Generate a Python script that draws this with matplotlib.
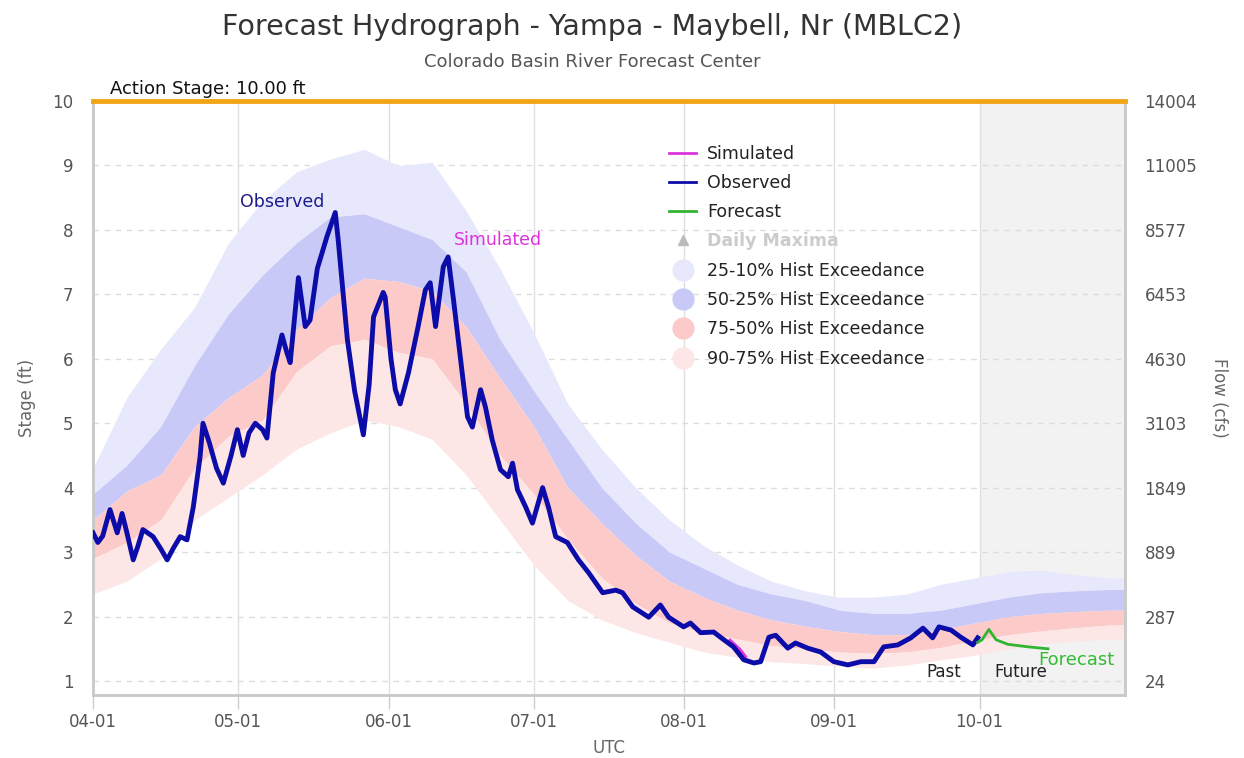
import numpy as np
import pandas as pd
import matplotlib
matplotlib.use('Agg')
import matplotlib.pyplot as plt
import matplotlib.dates as mdates
from matplotlib.lines import Line2D

plt.rcParams['font.family'] = ['DejaVu Sans']

inicio = pd.Timestamp('2019-04-01')

# Bandas de excedencia historica (dias desde 04-01, nivel en ft)
banda_dias = [0, 7, 14, 21, 28, 35, 42, 49, 56, 63, 70, 77, 84, 91, 98, 105,
              112, 119, 126, 133, 140, 147, 154, 161, 168, 175, 182, 189, 196,
              203, 210, 213]
exc_10 = [4.3, 5.4, 6.15, 6.8, 7.8, 8.45, 8.9, 9.1, 9.25, 9.0, 9.05, 8.3, 7.4,
          6.4, 5.3, 4.6, 4.0, 3.5, 3.1, 2.8, 2.55, 2.4, 2.3, 2.3, 2.35, 2.5,
          2.6, 2.7, 2.72, 2.65, 2.6, 2.6]
exc_25 = [3.9, 4.35, 4.95, 5.9, 6.7, 7.3, 7.8, 8.2, 8.25, 8.05, 7.85, 7.35,
          6.3, 5.5, 4.75, 4.0, 3.45, 3.0, 2.75, 2.5, 2.35, 2.25, 2.1, 2.05,
          2.05, 2.1, 2.2, 2.3, 2.37, 2.4, 2.42, 2.42]
exc_50 = [3.5, 3.95, 4.2, 4.95, 5.4, 5.75, 6.45, 6.95, 7.25, 7.2, 7.05, 6.5,
          5.7, 4.95, 4.0, 3.45, 2.95, 2.55, 2.3, 2.1, 1.95, 1.85, 1.77, 1.72,
          1.72, 1.8, 1.9, 2.0, 2.05, 2.08, 2.1, 2.1]
exc_75 = [2.9, 3.15, 3.5, 4.3, 4.8, 5.05, 5.8, 6.2, 6.3, 6.1, 6.0, 5.3, 4.5,
          3.9, 3.2, 2.6, 2.2, 1.9, 1.75, 1.65, 1.55, 1.5, 1.45, 1.43, 1.45,
          1.52, 1.63, 1.72, 1.78, 1.83, 1.87, 1.87]
exc_90 = [2.35, 2.55, 2.9, 3.5, 3.85, 4.2, 4.6, 4.85, 5.05, 4.95, 4.75, 4.2,
          3.5, 2.8, 2.25, 1.95, 1.75, 1.6, 1.45, 1.37, 1.3, 1.27, 1.23, 1.2,
          1.25, 1.33, 1.4, 1.5, 1.58, 1.62, 1.65, 1.65]

# Observado
obs_dias = [0.0, 1.0, 2.0, 3.5, 5.0, 6.0, 7.0, 8.3, 9.3, 10.3, 12.4, 14.0,
            15.3, 16.5, 18.0, 19.4, 20.7, 22.1, 22.7, 24.0, 25.5, 26.9, 28.5,
            29.8, 31.0, 32.2, 33.5, 35.0, 35.9, 37.2, 39.0, 40.0, 40.7, 42.4,
            43.8, 44.8, 46.3, 48.3, 50.0, 50.6, 52.5, 54.0, 55.8, 57.0, 57.9,
            59.9, 60.3, 61.5, 62.4, 63.4, 65.1, 67.1, 68.6, 69.6, 70.7, 72.3,
            73.3, 74.4, 76.2, 77.3, 78.3, 80.0, 81.0, 82.4, 84.1, 85.7, 86.6,
            87.6, 89.3, 90.7, 92.8, 94.0, 95.5, 97.9, 100.2, 102.3, 105.2,
            107.9, 109.3, 111.4, 114.7, 117.1, 118.8, 121.9, 123.3, 125.4,
            128.1, 130.2, 132.2, 134.3, 136.4, 137.8, 139.5, 140.9, 143.4,
            145.0, 147.5, 150.2, 152.9, 155.8, 158.5, 161.2, 163.2, 166.1,
            168.8, 171.3, 173.3, 174.6, 177.1, 179.1, 181.6, 182.6]
obs_nivel = [3.3, 3.15, 3.25, 3.66, 3.3, 3.6, 3.3, 2.88, 3.1, 3.35, 3.24, 3.05,
             2.88, 3.05, 3.24, 3.19, 3.7, 4.48, 5.0, 4.7, 4.3, 4.07, 4.5, 4.9,
             4.5, 4.85, 5.0, 4.9, 4.77, 5.78, 6.37, 6.1, 5.94, 7.26, 6.5, 6.6,
             7.4, 7.9, 8.27, 7.85, 6.3, 5.5, 4.82, 5.6, 6.65, 7.03, 6.96, 6.0,
             5.52, 5.3, 5.78, 6.5, 7.07, 7.18, 6.5, 7.43, 7.58, 6.92, 5.78, 5.1,
             4.94, 5.52, 5.25, 4.74, 4.28, 4.17, 4.38, 3.97, 3.7, 3.45, 4.0,
             3.7, 3.24, 3.15, 2.88, 2.68, 2.37, 2.41, 2.37, 2.15, 1.99, 2.18,
             1.99, 1.84, 1.9, 1.75, 1.76, 1.64, 1.53, 1.33, 1.28, 1.3, 1.68,
             1.71, 1.51, 1.59, 1.51, 1.45, 1.3, 1.25, 1.3, 1.3, 1.53, 1.56,
             1.67, 1.82, 1.67, 1.84, 1.79, 1.68, 1.56, 1.67]

# Simulado (solo visible en agosto)
sim_dias = [131.5, 132.5, 133.5, 134.5]
sim_nivel = [1.62, 1.55, 1.48, 1.38]

# Pronostico
pron_dias = [182.6, 183.5, 184.9, 186.4, 188.8, 193.0, 197.1]
pron_nivel = [1.6, 1.64, 1.8, 1.64, 1.57, 1.53, 1.5]

niveles = [1, 2, 3, 4, 5, 6, 7, 8, 9, 10]
caudales = ['24', '287', '889', '1849', '3103', '4630', '6453', '8577',
            '11005', '14004']
meses = ['2019-04-01', '2019-05-01', '2019-06-01', '2019-07-01',
         '2019-08-01', '2019-09-01', '2019-10-01']


def a_fechas(dias):
    return inicio + pd.to_timedelta(np.array(dias), unit='D')


fb = a_fechas(banda_dias)
fo = a_fechas(obs_dias)
fs = a_fechas(sim_dias)
fp = a_fechas(pron_dias)

c_25_10 = '#e8e8fc'
c_50_25 = '#c8c9f7'
c_75_50 = '#fdcaca'
c_90_75 = '#fde6e6'

fig = plt.figure(figsize=(12.44, 7.58), dpi=100)
ax = fig.add_axes([93 / 1244, 1 - 695 / 758, (1125 - 93) / 1244, (695 - 101) / 758])

fin = inicio + pd.Timedelta(days=213)
ax.set_xlim(inicio, fin)
ax.set_ylim(0.783, 10)

# zona futura
ax.axvspan(pd.Timestamp('2019-10-01'), fin, color='#f2f2f2', zorder=0, lw=0)

ax.fill_between(fb, exc_25, exc_10, color=c_25_10, lw=0, zorder=1)
ax.fill_between(fb, exc_50, exc_25, color=c_50_25, lw=0, zorder=1)
ax.fill_between(fb, exc_75, exc_50, color=c_75_50, lw=0, zorder=1)
ax.fill_between(fb, exc_90, exc_75, color=c_90_75, lw=0, zorder=1)

ax.plot(fs, sim_nivel, color='#dd33dd', lw=3, zorder=3)
ax.plot(fo, obs_nivel, color='#0c0ca8', lw=3.5, zorder=4)
ax.plot(fp, pron_nivel, color='#2fb52f', lw=2, zorder=4)

# etapa de accion
ax.axhline(10, color='#f2a516', lw=3.5, zorder=5, clip_on=False)
ax.text(inicio + pd.Timedelta(days=3.5), 10.04, 'Action Stage: 10.00 ft',
        fontsize=13, color='#111111', va='bottom', ha='left')

ax.set_xticks(pd.to_datetime(meses))
ax.xaxis.set_major_formatter(mdates.DateFormatter('%m-%d'))
ax.set_yticks(niveles)
ax.tick_params(axis='x', colors='#cccccc', length=10, width=1, labelcolor='#555555',
               labelsize=12, pad=3)
ax.tick_params(axis='y', length=0, labelcolor='#555555', labelsize=12, pad=14)
ax.grid(axis='x', color='#e0e0e0', lw=1, zorder=0.5)
ax.grid(axis='y', color='#dcdcdc', lw=1, linestyle=(0, (4, 4)), zorder=0.5)
ax.set_axisbelow(True)

for lado in ['left', 'bottom', 'right']:
    ax.spines[lado].set_color('#c8c8c8')
    ax.spines[lado].set_linewidth(2)
ax.spines['top'].set_visible(False)

ax.set_ylabel('Stage (ft)', fontsize=12, color='#666666', labelpad=12)
ax.set_xlabel('UTC', fontsize=12, color='#666666', labelpad=6)

ax2 = ax.twinx()
ax2.set_ylim(ax.get_ylim())
ax2.set_yticks(niveles)
ax2.set_yticklabels(caudales)
ax2.tick_params(axis='y', length=0, labelcolor='#555555', labelsize=12, pad=14)
for lado in ['left', 'bottom', 'right', 'top']:
    ax2.spines[lado].set_visible(False)
ax2.set_ylabel('Flow (cfs)', fontsize=12, color='#666666', rotation=270, labelpad=22)

# etiquetas sobre las series
ax.text(inicio + pd.Timedelta(days=39), 8.44, 'Observed', fontsize=12.5,
        color='#1c1c8c', ha='center', va='center')
ax.text(inicio + pd.Timedelta(days=83.5), 7.85, 'Simulated', fontsize=12.5,
        color='#dd33dd', ha='center', va='center')
ax.text(inicio + pd.Timedelta(days=175.5), 1.14, 'Past', fontsize=12,
        color='#222222', ha='center', va='center')
ax.text(inicio + pd.Timedelta(days=191.5), 1.14, 'Future', fontsize=12,
        color='#222222', ha='center', va='center')
ax.text(inicio + pd.Timedelta(days=203), 1.33, 'Forecast', fontsize=13,
        color='#33bb33', ha='center', va='center')

handles = [
    Line2D([], [], color='#dd33dd', lw=2),
    Line2D([], [], color='#0c0ca8', lw=2),
    Line2D([], [], color='#2fb52f', lw=2),
    Line2D([], [], color='#bbbbbb', marker='^', ls='none', markersize=7),
    Line2D([], [], color=c_25_10, marker='o', ls='none', markersize=15),
    Line2D([], [], color=c_50_25, marker='o', ls='none', markersize=15),
    Line2D([], [], color=c_75_50, marker='o', ls='none', markersize=15),
    Line2D([], [], color=c_90_75, marker='o', ls='none', markersize=15),
]
etiquetas = ['Simulated', 'Observed', 'Forecast', 'Daily Maxima',
             '25-10% Hist Exceedance', '50-25% Hist Exceedance',
             '75-50% Hist Exceedance', '90-75% Hist Exceedance']
leg = fig.legend(handles, etiquetas, loc='upper left',
                 bbox_to_anchor=(653 / 1244, 1 - 129 / 758), frameon=False,
                 fontsize=12.5, handlelength=1.6, handletextpad=0.6,
                 labelspacing=0.65)
for i, t in enumerate(leg.get_texts()):
    t.set_color('#cccccc' if i == 3 else '#222222')
    if i == 3:
        t.set_fontweight('bold')

fig.text(592 / 1244, 1 - 27 / 758, 'Forecast Hydrograph - Yampa - Maybell, Nr (MBLC2)',
         fontsize=20.5, color='#333333', ha='center', va='center')
fig.text(592 / 1244, 1 - 62 / 758, 'Colorado Basin River Forecast Center',
         fontsize=13, color='#555555', ha='center', va='center')

fig.savefig('out.png', dpi=100)
